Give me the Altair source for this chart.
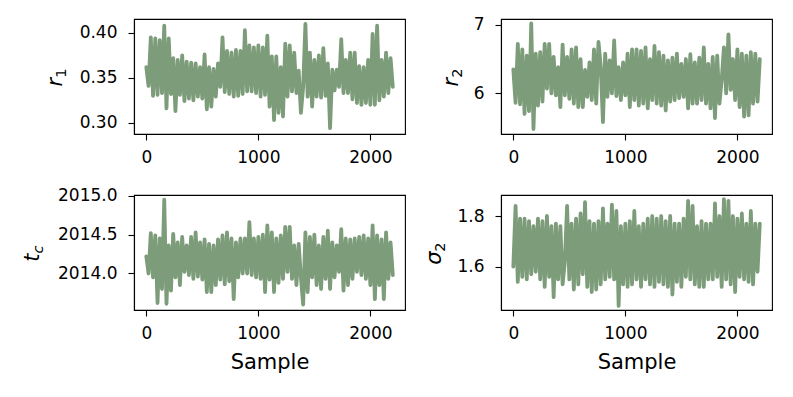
import altair as alt
import pandas as pd

GREEN = "#7c9c7a"
STEP = 20

r1_values = [
    0.362, 0.341, 0.395, 0.330, 0.394, 0.331, 0.392, 0.333, 0.408, 0.316,
    0.394, 0.332, 0.372, 0.313, 0.370, 0.331, 0.375, 0.324, 0.368, 0.327,
    0.367, 0.325, 0.366, 0.329, 0.362, 0.327, 0.376, 0.315, 0.362, 0.318,
    0.360, 0.329, 0.366, 0.340, 0.395, 0.334, 0.380, 0.332, 0.378, 0.329,
    0.381, 0.330, 0.380, 0.332, 0.403, 0.335, 0.386, 0.335, 0.384, 0.333,
    0.386, 0.329, 0.384, 0.331, 0.397, 0.318, 0.374, 0.303, 0.374, 0.311,
    0.362, 0.307, 0.388, 0.329, 0.386, 0.335, 0.378, 0.333, 0.358, 0.311,
    0.340, 0.410, 0.329, 0.378, 0.318, 0.370, 0.329, 0.375, 0.328, 0.383,
    0.330, 0.366, 0.294, 0.359, 0.336, 0.359, 0.340, 0.393, 0.333, 0.370,
    0.333, 0.378, 0.326, 0.378, 0.322, 0.363, 0.320, 0.362, 0.322, 0.370,
    0.320, 0.399, 0.320, 0.408, 0.325, 0.370, 0.329, 0.378, 0.333, 0.372,
    0.340,
]

r2_values = [
    6.35, 5.86, 6.72, 5.84, 6.64, 5.70, 6.55, 5.74, 7.02, 5.48,
    6.58, 5.82, 6.60, 5.88, 6.72, 6.07, 6.72, 6.00, 6.53, 5.97,
    6.38, 5.80, 6.71, 5.97, 6.53, 5.92, 6.64, 5.85, 6.67, 5.80,
    6.50, 5.80, 6.34, 5.95, 6.45, 5.90, 6.64, 5.85, 6.75, 6.40,
    5.58, 6.58, 5.95, 6.48, 6.00, 6.77, 5.96, 6.38, 5.90, 6.45,
    5.97, 6.58, 5.80, 6.64, 5.90, 6.64, 5.82, 6.62, 5.85, 6.67,
    5.78, 6.50, 5.90, 6.69, 5.85, 6.60, 5.82, 6.55, 5.75, 6.48,
    5.88, 6.52, 5.90, 6.58, 5.93, 6.43, 5.95, 6.50, 5.78, 6.57,
    5.85, 6.45, 5.85, 6.52, 5.90, 6.67, 5.85, 6.43, 5.78, 6.53,
    5.64, 6.55, 5.85, 6.20, 6.67, 6.00, 6.86, 6.05, 6.50, 5.90,
    6.64, 5.80, 6.58, 5.66, 6.55, 5.68, 6.60, 5.85, 6.58, 5.88,
    6.50,
]

tc_values = [
    2014.22, 2014.00, 2014.52, 2013.95, 2014.49, 2013.62, 2014.45, 2013.80, 2014.95, 2013.61,
    2014.36, 2013.78, 2014.51, 2013.95, 2014.40, 2013.85, 2014.47, 2014.02, 2014.36, 2013.98,
    2014.47, 2013.93, 2014.53, 2013.96, 2014.40, 2013.92, 2014.44, 2013.76, 2014.38, 2013.76,
    2014.36, 2013.85, 2014.44, 2013.92, 2014.49, 2013.86, 2014.53, 2013.90, 2014.45, 2013.67,
    2014.40, 2013.95, 2014.45, 2014.00, 2014.45, 2014.00, 2014.66, 2013.98, 2014.45, 2013.95,
    2014.47, 2013.93, 2014.50, 2013.76, 2014.62, 2013.92, 2014.53, 2013.76, 2014.45, 2013.88,
    2014.49, 2013.93, 2014.60, 2014.02, 2014.60, 2013.93, 2014.36, 2013.85, 2014.38, 2013.95,
    2013.60, 2014.53, 2013.76, 2014.47, 2013.95, 2014.50, 2013.85, 2014.36, 2013.80, 2014.47,
    2013.93, 2014.55, 2013.80, 2014.40, 2013.95, 2014.36, 2014.02, 2014.57, 2013.78, 2014.45,
    2013.85, 2014.44, 2013.93, 2014.45, 2014.02, 2014.47, 2013.98, 2014.49, 2013.93, 2014.45,
    2013.85, 2014.62, 2013.67, 2014.49, 2013.85, 2014.44, 2013.67, 2014.53, 2013.93, 2014.40,
    2013.98,
]

sigma2_values = [
    1.60, 1.84, 1.54, 1.79, 1.56, 1.79, 1.55, 1.78, 1.57, 1.76,
    1.58, 1.79, 1.55, 1.78, 1.52, 1.80, 1.56, 1.76, 1.48, 1.77,
    1.55, 1.76, 1.53, 1.62, 1.84, 1.55, 1.77, 1.51, 1.79, 1.53,
    1.81, 1.57, 1.855, 1.52, 1.78, 1.50, 1.77, 1.51, 1.78, 1.53,
    1.83, 1.55, 1.77, 1.56, 1.845, 1.55, 1.82, 1.445, 1.76, 1.53,
    1.77, 1.52, 1.78, 1.53, 1.82, 1.55, 1.76, 1.52, 1.77, 1.55,
    1.79, 1.53, 1.80, 1.52, 1.79, 1.54, 1.80, 1.53, 1.78, 1.52,
    1.80, 1.49, 1.77, 1.54, 1.77, 1.52, 1.79, 1.56, 1.86, 1.55,
    1.84, 1.53, 1.76, 1.52, 1.78, 1.52, 1.77, 1.55, 1.77, 1.55,
    1.85, 1.56, 1.80, 1.52, 1.867, 1.55, 1.86, 1.53, 1.80, 1.50,
    1.79, 1.56, 1.81, 1.55, 1.77, 1.54, 1.82, 1.53, 1.77, 1.58,
    1.77,
]

x_ticks = [0, 1000, 2000]

W, H = 271, 115


def panel(values, ydomain, yticks, yfmt, main, sub, title_dx, show_xtitle):
    df = pd.DataFrame({"Sample": [i * STEP for i in range(len(values))], "v": values})
    xaxis = alt.Axis(values=x_ticks, format="d", labelPadding=9, tickSize=6,
                     title="Sample" if show_xtitle else None,
                     titleBaseline="alphabetic", titleY=58, titleFontSize=21)
    line = alt.Chart(df).mark_line(
        color=GREEN, strokeWidth=3.8, strokeJoin="round", strokeCap="round"
    ).encode(
        x=alt.X("Sample:Q", scale=alt.Scale(domain=[-110, 2309], nice=False, zero=False), axis=xaxis),
        y=alt.Y("v:Q", scale=alt.Scale(domain=ydomain, nice=False, zero=False),
                axis=alt.Axis(values=yticks, format=yfmt, title=None, labelPadding=11, tickSize=6)),
    )
    mw = {"r": 8.6, "t": 8.2, "σ": 12.6}[main]
    sw = 9.4 if sub.isdigit() else 8.1
    yc = 58.5
    base_x = title_dx + (5.5 if main == "t" else 3.7)
    t_main = alt.Chart(pd.DataFrame({"s": [main]})).mark_text(
        angle=270, font="DejaVu Sans", fontStyle="italic", fontSize=21,
        align="center", baseline="alphabetic", color="black"
    ).encode(text="s:N", x=alt.value(base_x), y=alt.value(yc + sw / 2))
    t_sub = alt.Chart(pd.DataFrame({"s": [sub]})).mark_text(
        angle=270, font="DejaVu Sans", fontStyle="normal" if sub.isdigit() else "italic",
        fontSize=14.7, align="center", baseline="alphabetic", color="black"
    ).encode(text="s:N", x=alt.value(base_x + 4), y=alt.value(yc - mw / 2))
    return alt.layer(line, t_main, t_sub).properties(width=W, height=H)


p1 = panel(r1_values, [0.2875, 0.4155], [0.30, 0.35, 0.40], ".2f", "r", "1", -76, False)
p2 = panel(r2_values, [5.408, 7.083], [6, 7], "d", "r", "2", -47, False)
p3 = panel(tc_values, [2013.53, 2015.01], [2014.0, 2014.5, 2015.0], ".1f", "t", "c", -101, True)
p4 = panel(sigma2_values, [1.429, 1.883], [1.6, 1.8], ".1f", "σ", "2", -64, True)

chart = alt.concat(
    p1, p2, p3, p4, columns=2, spacing={"row": 61, "column": 96}, bounds="flush"
).properties(
    padding={"left": 12, "top": 7, "right": 5, "bottom": 5},
    background="white",
).configure_view(
    stroke="black", strokeWidth=1.1
).configure_axis(
    domainColor="black", domainWidth=1.1, tickColor="black", tickWidth=1.1,
    labelColor="black", labelFont="DejaVu Sans", labelFontSize=17,
    titleFont="DejaVu Sans", titleFontSize=21, titleColor="black",
    titleFontWeight="normal", grid=False
)

chart.save("out.html", embed_options={"renderer": "svg", "actions": False})
